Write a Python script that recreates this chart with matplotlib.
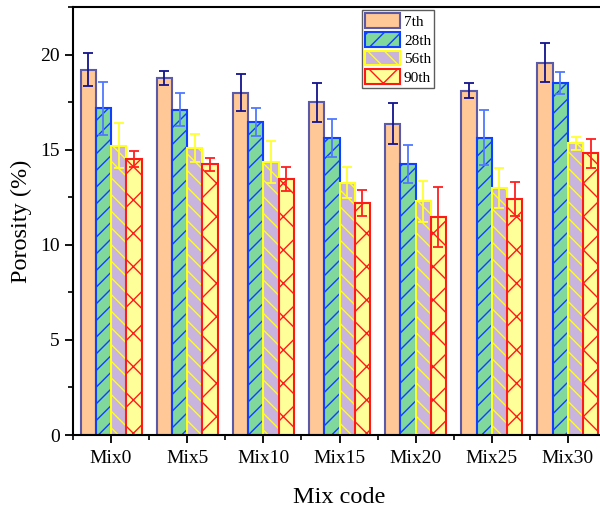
import numpy as np
import matplotlib
matplotlib.use('Agg')
from matplotlib import pyplot as plt
from matplotlib.ticker import MultipleLocator


mixes = ['Mix0', 'Mix5', 'Mix10', 'Mix15', 'Mix20', 'Mix25', 'Mix30']
ages = ['7th', '28th', '56th', '90th']

porosity_7 = [19.2, 18.78, 18.0, 17.48, 16.37, 18.1, 19.58]
porosity_28 = [17.18, 17.11, 16.45, 15.62, 14.25, 15.63, 18.5]
porosity_56 = [15.2, 15.08, 14.36, 13.27, 12.28, 12.99, 15.33]
porosity_90 = [14.5, 14.23, 13.47, 12.2, 11.46, 12.41, 14.8]

err_7 = [0.87, 0.36, 0.97, 1.02, 1.07, 0.39, 1.01]
err_28 = [1.4, 0.86, 0.72, 0.98, 1.02, 1.45, 0.57]
err_56 = [1.19, 0.75, 1.1, 0.8, 1.08, 1.05, 0.33]
err_90 = [0.42, 0.33, 0.64, 0.7, 1.56, 0.9, 0.76]


plt.rcParams.update({'font.family': ['Liberation Serif', 'DejaVu Serif']})
plt.rcParams.update({'hatch.linewidth': 1.0})

styles = [
    dict(fc='#ffc896', ec='#5a5aa8', hatch=None, err='#14148c'),
    dict(fc='#80d89c', ec='#1040ff', hatch='//', err='#5078ff'),
    dict(fc='#c8b4dc', ec='#ffff20', hatch='\\\\', err='#ffff30'),
    dict(fc='#ffff99', ec='#ff1a1a', hatch='x', err='#ff2020'),
]

values = [porosity_7, porosity_28, porosity_56, porosity_90]
errors = [err_7, err_28, err_56, err_90]

fig = plt.figure(figsize=(6.0, 5.12), dpi=100)
ax = fig.add_axes([73 / 600, 77 / 512, 533 / 600, 428 / 512])

x = np.arange(len(mixes))
width = 0.2
for i, (vals, errs, st, lab) in enumerate(zip(values, errors, styles, ages)):
    pos = x + (i - 1.5) * width
    ax.bar(pos, vals, width, color=st['fc'], edgecolor=st['ec'],
           hatch=st['hatch'], linewidth=1.5, label=lab, zorder=2)
    ax.errorbar(pos, vals, yerr=errs, fmt='none', ecolor=st['err'],
                elinewidth=1.3, capsize=3.5, capthick=1.3, zorder=3)

ax.set_xlim(-0.5, 6.5)
ax.set_ylim(0, 22.5)
ax.set_xticks(x)
ax.set_xticklabels(mixes)
ax.xaxis.set_minor_locator(MultipleLocator(1.0, offset=0.5))
ax.yaxis.set_major_locator(MultipleLocator(5))
ax.yaxis.set_minor_locator(MultipleLocator(2.5))

ax.tick_params(which='major', direction='out', length=6, width=1.3,
               labelsize=14, right=False, top=False)
ax.tick_params(axis='x', which='major', pad=5)
ax.tick_params(which='minor', direction='out', length=3.5, width=1.2,
               right=False, top=False)
for sp in ax.spines.values():
    sp.set_linewidth(1.5)

ax.set_xlabel('Mix code', fontsize=17.5, labelpad=14)
ax.set_ylabel('Porosity (%)', fontsize=17.5, labelpad=6)

leg = ax.legend(loc='upper left', bbox_to_anchor=(0.542, 0.992),
                fontsize=11, frameon=True, fancybox=False,
                handlelength=2.3, handleheight=1.1, handletextpad=0.25,
                labelspacing=0.2, borderpad=0.2, borderaxespad=0)
leg.get_frame().set_edgecolor('#333333')
leg.get_frame().set_linewidth(1.0)

fig.savefig('out.png', dpi=100)
